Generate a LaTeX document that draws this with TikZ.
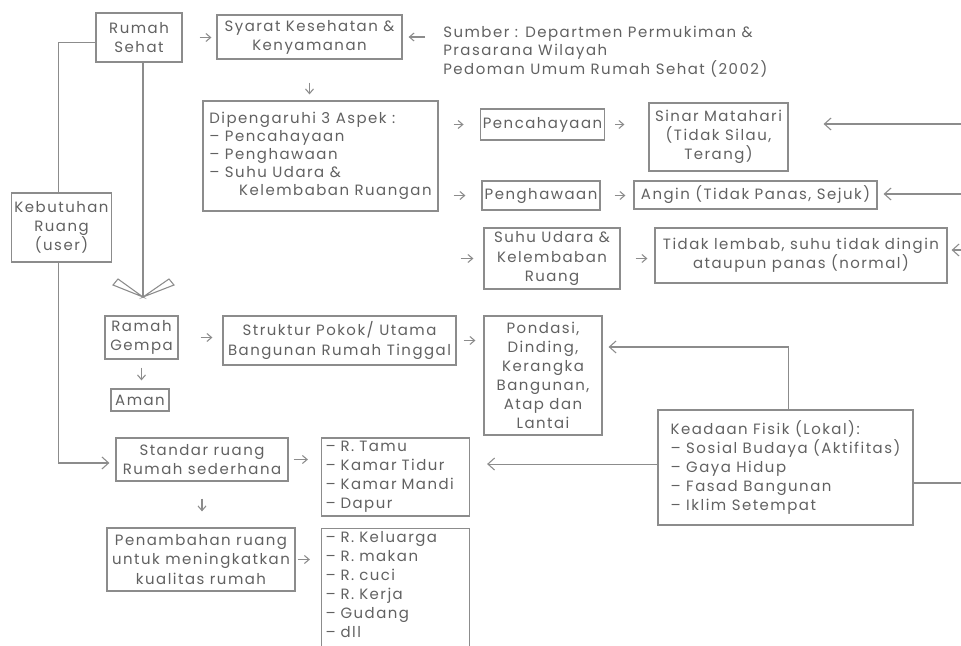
\documentclass[tikz,border=0pt]{standalone}
\usepackage{fontspec}
\setmainfont{Poppins}[LetterSpace=10]
\usetikzlibrary{arrows.meta,calc}

\definecolor{garis}{gray}{0.55}
\definecolor{tulisan}{gray}{0.38}
\newcommand{\hurufkotak}{\fontsize{11.2}{14.3}\selectfont}
\newcommand{\btr}{\textendash\ }

\begin{document}
\begin{tikzpicture}[x=0.75pt,y=-0.75pt,
	kotak/.style={
		draw=garis,line width=0.9pt,text=tulisan,align=center,inner sep=2pt,font=\hurufkotak
	},
	daftar/.style={
		kotak,align=left,text width=105pt,inner xsep=3pt
	},
	teks/.style={
		text=tulisan,align=left,inner sep=0pt,font=\fontsize{11.2}{13.1}\selectfont
	},
	panah/.style={
		draw=garis,line width=0.8pt,-{Straight Barb[length=3.5pt,width=6pt]}
	},
	panahpanjang/.style={
		draw=garis,line width=0.8pt,-{Straight Barb[length=5pt,width=9pt]}
	},
	garisbiasa/.style={
		draw=garis,line width=0.8pt
	}
	]
	\fill[white] (0,0) rectangle (961,646);
	\useasboundingbox (0,0) rectangle (961,646);

	% baris atas
	\node[kotak,minimum width=64.5pt,minimum height=36.75pt] (rumah) at (139,37.5) {Rumah\\Sehat};
	\node[kotak,minimum width=138.75pt,minimum height=33pt] (syarat) at (309.5,37) {Syarat Kesehatan \&\\Kenyamanan};
	\node[teks,anchor=north west] (sumber) at (443,26) {Sumber : Departmen Permukiman \&\\Prasarana Wilayah\\Pedoman Umum Rumah Sehat (2002)};

	% tiga aspek
	\node[kotak,align=left,minimum width=176.25pt,minimum height=82.5pt,font=\fontsize{11.2}{13.6}\selectfont] (aspek) at (320.5,156) {Dipengaruhi 3 Aspek :\\\btr Pencahayaan\\\btr Penghawaan\\\btr Suhu Udara \&\\\hspace*{2em}Kelembaban Ruangan};
	\node[kotak,minimum width=89.25pt,minimum height=23.25pt] (cahaya) at (542.5,124.5) {Pencahayaan};
	\node[kotak,minimum width=104.25pt,minimum height=51pt] (sinar) at (718.5,137) {Sinar Matahari\\(Tidak Silau,\\Terang)};
	\node[kotak,minimum width=87pt,minimum height=21.75pt] (hawa) at (541,195.5) {Penghawaan};
	\node[kotak,minimum width=182.25pt,minimum height=21pt] (angin) at (755.5,195) {Angin (Tidak Panas, Sejuk)};
	\node[kotak,minimum width=102pt,minimum height=45.75pt] (suhu) at (552,258.5) {Suhu Udara \&\\Kelembaban\\Ruang};
	\node[kotak,minimum width=219pt,minimum height=41.25pt] (lembab) at (801,255.5) {Tidak lembab, suhu tidak dingin\\ataupun panas (normal)};

	% kiri
	\node[kotak,minimum width=74.25pt,minimum height=51.75pt] (butuh) at (61.5,227.5) {Kebutuhan\\Ruang\\(user)};
	\node[kotak,minimum width=54.75pt,minimum height=32.25pt] (gempa) at (141.5,337.5) {Ramah\\Gempa};
	\node[kotak,minimum width=43.5pt,minimum height=16.5pt] (aman) at (140,400) {Aman};
	\node[kotak,minimum width=174.75pt,minimum height=36.75pt] (struktur) at (339.5,340.5) {Struktur Pokok/ Utama\\Bangunan Rumah Tinggal};
	\node[kotak,minimum width=88.5pt,minimum height=89.25pt] (pondasi) at (543,375.5) {Pondasi,\\Dinding,\\Kerangka\\Bangunan,\\Atap dan\\Lantai};
	\node[kotak,align=left,minimum width=191.25pt,minimum height=86.25pt] (keadaan) at (785.5,467.5) {Keadaan Fisik (Lokal):\\\btr Sosial Budaya (Aktifitas)\\\btr Gaya Hidup\\\btr Fasad Bangunan\\\btr Iklim Setempat};

	% ruang
	\node[kotak,minimum width=129pt,minimum height=32.25pt] (standar) at (202,459.5) {Standar ruang\\Rumah sederhana};
	\node[daftar,minimum height=58.5pt] (tamu) at (395.5,477) {\btr R. Tamu\\\btr Kamar Tidur\\\btr Kamar Mandi\\\btr Dapur};
	\node[kotak,minimum width=141pt,minimum height=47.25pt] (tambah) at (201,559.5) {Penambahan ruang\\untuk meningkatkan\\kualitas rumah};
	\node[daftar,anchor=north,inner ysep=2pt,text depth=110pt] (keluarga) at (395.5,528) {\btr R. Keluarga\\\btr R. makan\\\btr R. cuci\\\btr R. Kerja\\\btr Gudang\\\btr dll};

	% ujung kanan
	\coordinate (kanan1) at (961,124);
	\coordinate (kanan2) at (961,194);
	\coordinate (kanan3) at (961,250);
	\coordinate (kanan4) at (961,483);
	\coordinate (ujung) at (143,297);
	\coordinate (kiriK) at ([yshift=2.6pt]keadaan.west);
	\coordinate (atasK) at ([xshift=1.9pt]keadaan.north);

	% panah pendek
	\draw[panah,shorten <=12.75pt,shorten >=3.75pt] (rumah.east) -- (rumah.east -| syarat.west);
	\draw[panah,shorten <=13.5pt,shorten >=4.5pt] (syarat.east -| sumber.west) -- (syarat.east);
	\draw[panah,shorten <=17.25pt,shorten >=4.5pt] (syarat.south) -- (syarat.south |- aspek.north);
	\draw[panah,shorten <=11.25pt,shorten >=12pt] (aspek.east |- cahaya.west) -- (cahaya.west);
	\draw[panah,shorten <=11.25pt,shorten >=12pt] (aspek.east |- hawa.west) -- (hawa.west);
	\draw[panah,shorten <=16.5pt,shorten >=7.5pt] (aspek.east |- suhu.west) -- (suhu.west);
	\draw[panah,shorten <=7.5pt,shorten >=18pt] (cahaya.east) -- (cahaya.east -| sinar.west);
	\draw[panah,shorten <=10.5pt,shorten >=6pt] (hawa.east) -- (hawa.east -| angin.west);
	\draw[panah,shorten <=11.25pt,shorten >=5.25pt] (suhu.east) -- (suhu.east -| lembab.west);
	\draw[panah,shorten <=16.5pt,shorten >=7.5pt] (gempa.east) -- (gempa.east -| struktur.west);
	\draw[panah,shorten <=6pt,shorten >=6pt] (gempa.south) -- (gempa.south |- aman.north);
	\draw[panah,shorten <=5.25pt,shorten >=6pt] (struktur.east) -- (struktur.east -| pondasi.west);
	\draw[panah,shorten <=3.75pt,shorten >=9.75pt] (standar.east) -- (standar.east -| tamu.west);
	\draw[panah,shorten <=12.75pt,shorten >=12pt] (standar.south) -- (standar.south |- tambah.north);
	\draw[panah,shorten <=1.5pt,shorten >=8.25pt] (tambah.east) -- (tambah.east -| keluarga.west);

	% garis panjang
	\draw[garisbiasa] ([yshift=-3.4pt]rumah.west) -| ([xshift=-2.6pt]butuh.north);
	\draw[panahpanjang,shorten >=4.5pt] ([xshift=-2.6pt]butuh.south) |- ([yshift=-2.6pt]standar.west);
	\draw[garisbiasa] (rumah.south -| ujung) -- (ujung);
	\draw[garisbiasa,fill=white] (ujung) -- (113,285) -- (118,279) -- cycle;
	\draw[garisbiasa,fill=white] (ujung) -- (174,285) -- (169,279) -- cycle;
	\draw[panahpanjang,shorten >=26.25pt] (kanan1) -- (kanan1 -| sinar.east);
	\draw[panahpanjang,shorten >=4.5pt] (kanan2) -- (kanan2 -| angin.east);
	\draw[panahpanjang,shorten >=3pt] (kanan3) -- (kanan3 -| lembab.east);
	\draw[garisbiasa] (kanan4 -| keadaan.east) -- (kanan4);
	\draw[panahpanjang,shorten >=4.5pt] (atasK) |- ([yshift=21.4pt]pondasi.east);
	\draw[panahpanjang,shorten >=12.75pt] (kiriK) -- (kiriK -| tamu.east);
\end{tikzpicture}
\end{document}
